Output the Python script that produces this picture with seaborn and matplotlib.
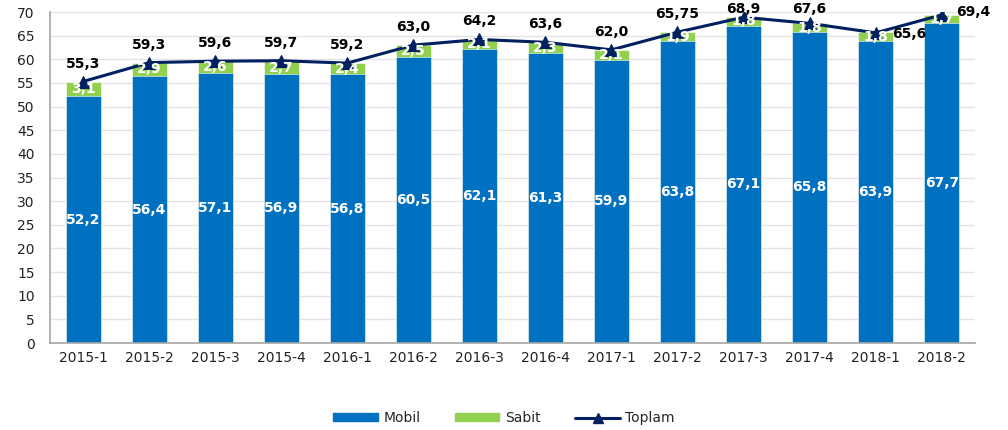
import matplotlib.pyplot as plt
import numpy as np
import pandas as pd
import seaborn as sns
from matplotlib.lines import Line2D
from matplotlib.patches import Patch

periods = ["2015-1", "2015-2", "2015-3", "2015-4", "2016-1", "2016-2", "2016-3",
           "2016-4", "2017-1", "2017-2", "2017-3", "2017-4", "2018-1", "2018-2"]
mobil = [52.2, 56.4, 57.1, 56.9, 56.8, 60.5, 62.1, 61.3, 59.9, 63.8, 67.1, 65.8, 63.9, 67.7]
sabit = [3.1, 2.9, 2.6, 2.7, 2.4, 2.5, 2.1, 2.3, 2.1, 1.9, 1.8, 1.8, 1.8, 1.7]
toplam = [55.3, 59.3, 59.6, 59.7, 59.2, 63.0, 64.2, 63.6, 62.0, 65.75, 68.9, 67.6, 65.6, 69.4]
toplam_labels = ["55,3", "59,3", "59,6", "59,7", "59,2", "63,0", "64,2", "63,6", "62,0",
                 "65,75", "68,9", "67,6", "65,6", "69,4"]

BLUE = "#0070C0"
GREEN = "#92D050"
NAVY = "#002060"

df = pd.DataFrame({"period": periods, "mobil": mobil, "sabit": sabit, "toplam": toplam})
df["stack"] = df["mobil"] + df["sabit"]
df["x"] = np.arange(len(df))

sns.set_style("white")
plt.rcParams["font.family"] = ["DejaVu Sans"]

fig = plt.figure(figsize=(10.08, 4.3), dpi=100)
ax = fig.add_axes([0.0496, 0.2023, 0.9174, 0.7697])

sns.barplot(data=df, x="period", y="stack", color=GREEN, width=0.53, saturation=1, ax=ax,
            edgecolor="white", linewidth=0.4)
sns.barplot(data=df, x="period", y="mobil", color=BLUE, width=0.53, saturation=1, ax=ax,
            edgecolor="white", linewidth=0.4)
sns.lineplot(data=df, x="x", y="toplam", color=NAVY, linewidth=2.2, marker="^",
             markersize=8, markeredgecolor=NAVY, ax=ax)

fmt = lambda v: f"{v:.1f}".replace(".", ",")
for i, row in df.iterrows():
    ax.text(i, row["mobil"] / 2, fmt(row["mobil"]), ha="center", va="center",
            color="white", fontsize=10, fontweight="bold")
    ax.text(i, row["mobil"] + row["sabit"] / 2, fmt(row["sabit"]), ha="center", va="center",
            color="white", fontsize=10, fontweight="bold")
    lab = toplam_labels[i]
    if i == len(df) - 1:
        ax.text(i + 0.22, row["toplam"] + 0.6, lab, ha="left", va="center",
                color="black", fontsize=10, fontweight="bold")
    elif lab == "65,6":
        ax.text(i + 0.25, row["toplam"] - 0.3, lab, ha="left", va="center",
                color="black", fontsize=10, fontweight="bold")
    else:
        y = min(row["toplam"] + 3.8, 70.7)
        ax.text(i, y, lab, ha="center", va="center", clip_on=False,
                color="black", fontsize=10, fontweight="bold")

ax.set_xlim(-0.5, len(df) - 0.5)
ax.set_ylim(0, 70)
ax.set_yticks(range(0, 71, 5))
ax.set_xlabel("")
ax.set_ylabel("")
ax.yaxis.grid(True, color="#e3e3e3", linewidth=1)
ax.set_axisbelow(True)
for s in ["top", "right"]:
    ax.spines[s].set_visible(False)
for s in ["left", "bottom"]:
    ax.spines[s].set_color("#a6a6a6")
    ax.spines[s].set_linewidth(1.2)

ax.set_xticks(np.arange(len(df)))
ax.set_xticklabels(periods)
ax.set_xticks(np.arange(-0.5, len(df)), minor=True)
ax.tick_params(axis="x", which="major", length=0, labelsize=10, pad=6)
ax.tick_params(axis="x", which="minor", length=5, color="#a6a6a6", direction="out")
ax.tick_params(axis="y", length=5, color="#a6a6a6", labelsize=10, pad=6)
for t in ax.get_xticklabels() + ax.get_yticklabels():
    t.set_color("#222222")

handles = [Patch(color=BLUE, label="Mobil"), Patch(color=GREEN, label="Sabit"),
           Line2D([0], [0], color=NAVY, linewidth=2.2, marker="^", markersize=7, label="Toplam")]
fig.legend(handles=handles, loc="center", bbox_to_anchor=(0.5, 0.028), ncol=3, frameon=False,
           fontsize=10, handlelength=3.2, handleheight=0.45, columnspacing=2.5, handletextpad=0.4)

fig.savefig("out.png", dpi=100)
